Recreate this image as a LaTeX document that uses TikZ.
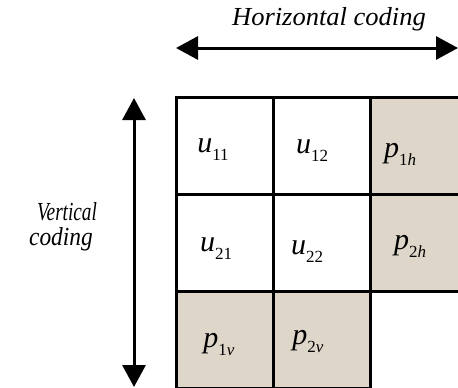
\documentclass[tikz,border=0pt]{standalone}
\usepackage{fontspec}
\setmainfont{Liberation Serif}[ItalicFont={Liberation Serif Italic}]
\usetikzlibrary{arrows.meta}
\definecolor{parity}{RGB}{222,214,201}
\newcommand{\mainlab}[2]{\textit{#1}\raisebox{-8.5pt}{\fontsize{17}{17}\selectfont #2}}
\begin{document}
\begin{tikzpicture}[x=1pt,y=-1pt,
  cell/.style={draw=black, line width=2.5pt, minimum size=97pt, inner sep=0pt, anchor=north west},
  pcell/.style={cell, fill=parity},
  lab/.style={anchor=base, inner sep=0pt, font=\fontsize{30}{30}\selectfont},
  axisline/.style={line width=3pt, {Triangle[length=22pt,width=23pt]}-{Triangle[length=22pt,width=23pt]}},
  axislabel/.style={inner sep=0pt, anchor=base, font=\fontsize{26}{28}\selectfont\itshape}
]
\useasboundingbox (0,0) rectangle (458,388);
% cells
\node[cell] (c11) at (175,96) {};
\node[cell] (c12) at (272,96) {};
\node[pcell] (c13) at (369,96) {};
\node[cell] (c21) at (175,193) {};
\node[cell] (c22) at (272,193) {};
\node[pcell] (c23) at (369,193) {};
\node[pcell] (c31) at (175,290) {};
\node[pcell] (c32) at (272,290) {};
% labels
\node[lab] (l11) at (213,152) {\mainlab{u}{11}};
\node[lab] (l12) at (312,153) {\mainlab{u}{12}};
\node[lab] (l13) at (400,157) {\mainlab{p}{1\textit{h}}};
\node[lab] (l21) at (216,251) {\mainlab{u}{21}};
\node[lab] (l22) at (307,254) {\mainlab{u}{22}};
\node[lab] (l23) at (410,249) {\mainlab{p}{2\textit{h}}};
\node[lab] (l31) at (219,347) {\mainlab{p}{1\textit{v}}};
\node[lab] (l32) at (308,344) {\mainlab{p}{2\textit{v}}};
% axes
\coordinate (hl) at (176,48);
\coordinate (hr) at (458,48);
\coordinate (vt) at (134,98);
\coordinate (vb) at (134,387);
\draw[axisline] (hl) -- (hr);
\draw[axisline] (vt) -- (vb);
\node[axislabel] (ht) at (329,25) {\scalebox{1.02}[1]{Horizontal coding}};
\node[axislabel] (vt1) at (67,220) {\scalebox{0.74}[1]{Vertical}};
\node[axislabel] (vt2) at (61,245) {\scalebox{0.9}[1]{coding}};
\end{tikzpicture}
\end{document}
